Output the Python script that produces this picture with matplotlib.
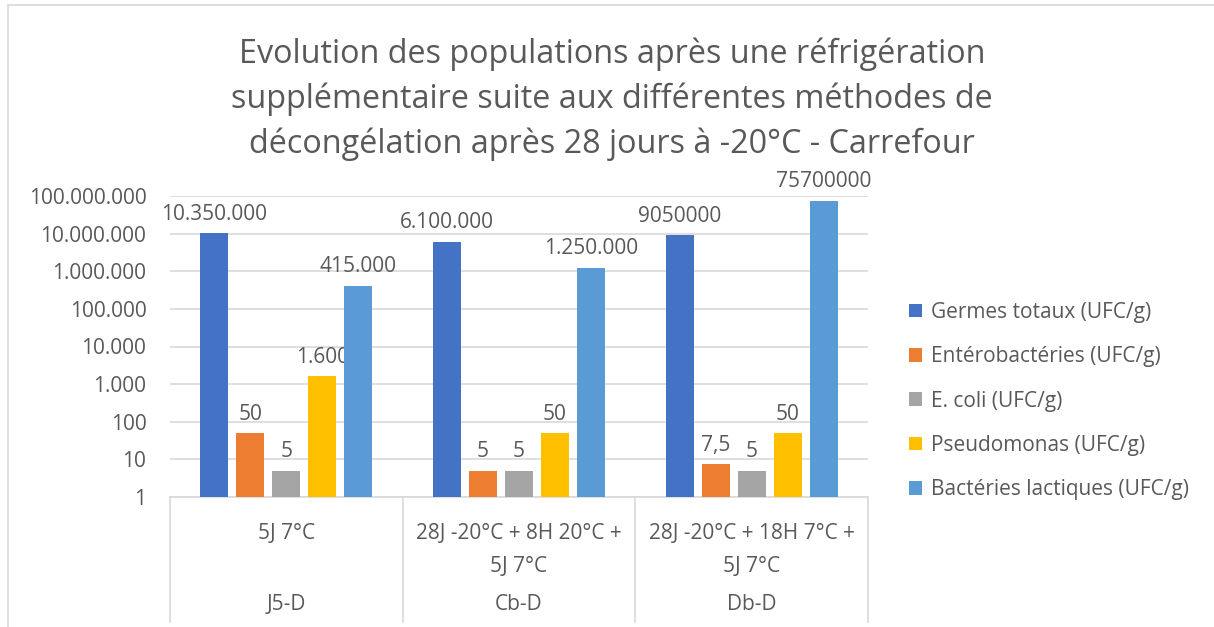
import matplotlib.pyplot as plt
import matplotlib.transforms as mtransforms
from matplotlib.patches import Rectangle
import numpy as np

plt.rcParams['font.family'] = ['Open Sans', 'DejaVu Sans']

# data
groups = ["J5-D", "Cb-D", "Db-D"]
conditions = ["5J 7°C", "28J -20°C + 8H 20°C +\n5J 7°C", "28J -20°C + 18H 7°C +\n5J 7°C"]
series = ["Germes totaux (UFC/g)", "Entérobactéries (UFC/g)", "E. coli (UFC/g)",
          "Pseudomonas (UFC/g)", "Bactéries lactiques (UFC/g)"]
germes = [10350000, 6100000, 9050000]
entero = [50, 5, 7.5]
ecoli = [5, 5, 5]
pseudo = [1600, 50, 50]
lactiques = [415000, 1250000, 75700000]
labels = [["10.350.000", "6.100.000", "9050000"],
          ["50", "5", "7,5"],
          ["5", "5", "5"],
          ["1.600", "50", "50"],
          ["415.000", "1.250.000", "75700000"]]
yticks = [1, 10, 100, 1000, 10000, 100000, 1000000, 10000000, 100000000]
yticklabels = ["1", "10", "100", "1.000", "10.000", "100.000", "1.000.000",
               "10.000.000", "100.000.000"]
colors = ["#4472C4", "#ED7D31", "#A5A5A5", "#FFC000", "#5B9BD5"]
txt = "#595959"
fs = 15

W, H = 1214, 627
fig = plt.figure(figsize=(W / 100, H / 100), dpi=100)
ax = fig.add_axes([170 / W, 1 - 497 / H, (868 - 170) / W, (497 - 196) / H])

# chart border
fig.patches.append(Rectangle((8 / W, -0.1), 1.2, (1 - 5 / H) + 0.1, transform=fig.transFigure,
                             fill=False, edgecolor="#D9D9D9", lw=1.2))

values = [germes, entero, ecoli, pseudo, lactiques]
x = np.arange(len(groups)) + 0.5
step, width = 0.1545, 0.12
for j, vals in enumerate(values):
    pos = x + (j - 2) * step
    bars = ax.bar(pos, vals, width=width, color=colors[j], label=series[j], zorder=3)
    for b, lab in zip(bars, labels[j]):
        ax.annotate(lab, (b.get_x() + b.get_width() / 2, b.get_height()),
                    xytext=(0, 6), textcoords="offset points", ha="center", va="bottom",
                    fontsize=fs, color=txt)

ax.set_yscale("log")
ax.set_ylim(1, 1e8)
ax.set_xlim(0, 3)
ax.set_yticks(yticks)
ax.set_yticklabels(yticklabels)
ax.minorticks_off()
ax.tick_params(axis="y", length=0, labelsize=fs, labelcolor=txt, pad=17)
ax.set_xticks([])
ax.grid(axis="y", color="#D9D9D9", lw=1.2, zorder=0)
for s in ["left", "right", "top"]:
    ax.spines[s].set_visible(False)
ax.spines["bottom"].set_color("#D9D9D9")
ax.spines["bottom"].set_linewidth(1.2)

# multi-level category axis
trans = mtransforms.blended_transform_factory(ax.transData, fig.transFigure)
for k in range(len(groups) + 1):
    ax.plot([k, k], [1 - 497 / H, 1 - 622 / H], transform=trans, color="#D9D9D9",
            lw=1.2, clip_on=False)
for k in range(len(groups)):
    ax.text(k + 0.5, 1 - 523 / H, conditions[k], transform=trans, ha="center", va="top",
            fontsize=fs, color=txt, linespacing=1.75)
    ax.text(k + 0.5, 1 - 605 / H, groups[k], transform=trans, ha="center", va="center",
            fontsize=fs, color=txt)

fig.text(612 / W, 1 - 99 / H,
         "Evolution des populations après une réfrigération\nsupplémentaire suite aux différentes méthodes de\ndécongélation après 28 jours à -20°C - Carrefour",
         ha="center", va="center", fontsize=23.3, color=txt, linespacing=1.45)

ax.legend(loc="center left", bbox_to_anchor=(890 / W, 1 - 401 / H),
          bbox_transform=fig.transFigure, frameon=False, fontsize=fs,
          labelcolor=txt, handlelength=0.65, handleheight=0.65, handletextpad=0.4,
          labelspacing=1.12)

fig.savefig("out.png", dpi=100)
